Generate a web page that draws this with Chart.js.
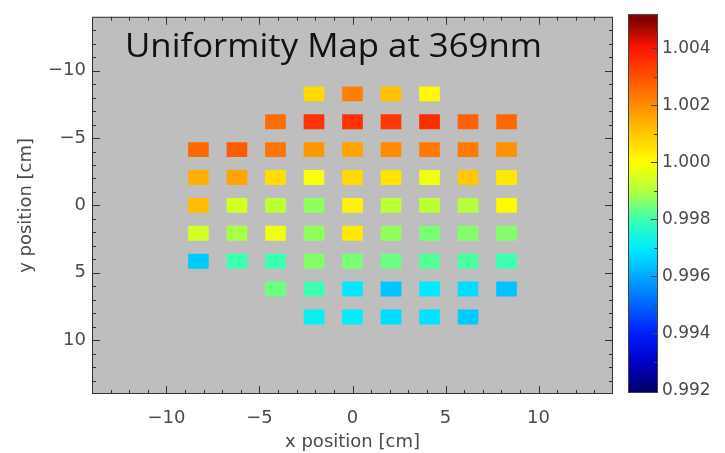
<!doctype html>
<html>
<head>
  <meta charset="utf-8">
  <title>Uniformity Map at 369nm</title>
  <style>
    body { margin: 0; background: #fff; }
    .wrap { position: relative; width: 725px; height: 453px; }
    #mapChart { position: absolute; left: 0; top: 0; }
    #barChart { position: absolute; left: 600px; top: 0; }
  </style>
</head>
<body>
  <div class="wrap">
    <canvas id="mapChart" width="725" height="453"></canvas>
    <canvas id="barChart" width="125" height="453"></canvas>
  </div>

  <script src="https://cdn.jsdelivr.net/npm/chart.js"></script>
  <script>
    // cell centres [cm]
    const colX = [-8.28, -6.21, -4.14, -2.07, 0, 2.07, 4.14, 6.21, 8.28];
    const rowY = [-8.28, -6.21, -4.14, -2.07, 0, 2.07, 4.14, 6.21, 8.28];

    // relative response per cell, one array per row (null = no cell)
    const row1 = [null, null, null, 1.0007, 1.0022, 1.0011, 1.0001, null, null];
    const row2 = [null, null, 1.0025, 1.0035, 1.0035, 1.0034, 1.0036, 1.0027, 1.0026];
    const row3 = [1.0026, 1.0028, 1.0024, 1.0018, 1.0016, 1.0020, 1.0023, 1.0023, 1.0019];
    const row4 = [1.0014, 1.0016, 1.0006, 0.9999, 1.0007, 1.0005, 0.9998, 1.0010, 1.0004];
    const row5 = [1.0012, 0.9994, 0.9991, 0.9987, 1.0002, 0.9991, 0.9991, 0.9990, 1.0001];
    const row6 = [0.9994, 0.9989, 0.9998, 0.9987, 1.0004, 0.9987, 0.9985, 0.9986, 0.9986];
    const row7 = [0.9965, 0.9980, 0.9980, 0.9986, 0.9985, 0.9984, 0.9982, 0.9981, 0.9980];
    const row8 = [null, null, 0.9984, 0.9980, 0.9970, 0.9964, 0.9970, 0.9968, 0.9964];
    const row9 = [null, null, null, 0.9972, 0.9971, 0.9968, 0.9969, 0.9965, null];
    const rows = [row1, row2, row3, row4, row5, row6, row7, row8, row9];

    const axisTicks = [-10, -5, 0, 5, 10];
    const barTicks = [0.992, 0.994, 0.996, 0.998, 1.000, 1.002, 1.004];
    const barMin = 0.9919, barMax = 1.0052;

    // rainbow colour table
    const stops = [
      [0.992, [0, 0, 110]], [0.993, [0, 0, 200]], [0.994, [0, 30, 255]],
      [0.995, [0, 100, 255]], [0.996, [0, 170, 255]], [0.997, [0, 235, 255]],
      [0.998, [60, 255, 175]], [0.999, [180, 255, 60]], [1.000, [255, 255, 0]],
      [1.001, [255, 200, 0]], [1.002, [255, 140, 0]], [1.003, [255, 80, 0]],
      [1.004, [255, 20, 0]], [1.005, [130, 0, 0]]
    ];
    function colorOf(v) {
      if (v <= stops[0][0]) return 'rgb(' + stops[0][1].join(',') + ')';
      for (let i = 1; i < stops.length; i++) {
        if (v <= stops[i][0]) {
          const a = stops[i - 1], b = stops[i];
          const t = (v - a[0]) / (b[0] - a[0]);
          const c = a[1].map((k, j) => Math.round(k + (b[1][j] - k) * t));
          return 'rgb(' + c.join(',') + ')';
        }
      }
      return 'rgb(' + stops[stops.length - 1][1].join(',') + ')';
    }

    const cells = [];
    const cellColors = [];
    rows.forEach((r, i) => {
      r.forEach((v, j) => {
        if (v === null) return;
        cells.push({ x: colX[j], y: [rowY[i] - 0.53, rowY[i] + 0.53] });
        cellColors.push(colorOf(v));
      });
    });

    const textFont = { family: 'DejaVu Sans', size: 18 };
    const textColor = '#4a4a4a';
    const minus = (v) => String(v).replace('-', '\u2212');

    // grey background, frame, inward ticks, title
    const frame = {
      id: 'frame',
      beforeDraw(chart) {
        const a = chart.chartArea, c = chart.ctx;
        c.save();
        c.fillStyle = '#bebebe';
        c.fillRect(a.left, a.top, a.right - a.left, a.bottom - a.top);
        c.restore();
      },
      afterDatasetsDraw(chart) {
        const a = chart.chartArea, c = chart.ctx;
        const xs = chart.scales.x, ys = chart.scales.y;
        c.save();
        c.strokeStyle = '#333';
        c.lineWidth = 1;
        c.strokeRect(a.left + 0.5, a.top + 0.5, a.right - a.left - 1, a.bottom - a.top - 1);
        c.beginPath();
        for (let v = -13; v <= 13; v++) {
          const len = v % 5 === 0 ? 8 : 4;
          const px = Math.round(xs.getPixelForValue(v)) + 0.5;
          c.moveTo(px, a.bottom); c.lineTo(px, a.bottom - len);
          c.moveTo(px, a.top); c.lineTo(px, a.top + len);
          const py = Math.round(ys.getPixelForValue(v)) + 0.5;
          c.moveTo(a.left, py); c.lineTo(a.left + len, py);
          c.moveTo(a.right, py); c.lineTo(a.right - len, py);
        }
        c.stroke();
        // title, stretched to the width it has in the original
        const title = 'Uniformity Map at 369nm';
        c.fillStyle = '#111';
        c.font = '32px "Open Sans"';
        c.textBaseline = 'alphabetic';
        const w = c.measureText(title).width;
        c.translate(125, 57);
        c.scale(417 / w, 1);
        c.fillText(title, 0, 0);
        c.restore();
      }
    };

    new Chart(document.getElementById('mapChart'), {
      type: 'bar',
      data: {
        datasets: [{
          data: cells,
          backgroundColor: cellColors,
          borderWidth: 0,
          barThickness: 20
        }]
      },
      options: {
        responsive: false,
        animation: false,
        layout: { padding: { left: 0, top: 13, right: 112, bottom: 0 } },
        plugins: { legend: { display: false }, tooltip: { enabled: false } },
        scales: {
          x: {
            type: 'linear', min: -14, max: 14, offset: false,
            afterBuildTicks: (s) => { s.ticks = axisTicks.map((v) => ({ value: v })); },
            afterFit: (s) => { s.height = 59; },
            grid: { display: false, drawTicks: false },
            border: { display: false },
            ticks: { font: textFont, color: textColor, padding: 14, maxRotation: 0, callback: minus },
            title: { display: true, text: 'x position [cm]', font: textFont, color: textColor, padding: 0 }
          },
          y: {
            type: 'linear', min: -14, max: 14, reverse: true,
            afterBuildTicks: (s) => { s.ticks = axisTicks.map((v) => ({ value: v })); },
            afterFit: (s) => { s.width = 92; },
            grid: { display: false, drawTicks: false },
            border: { display: false },
            ticks: { font: textFont, color: textColor, padding: 6, callback: minus },
            title: { display: true, text: 'y position [cm]', font: textFont, color: textColor,
                     padding: { top: 16, bottom: 0 } }
          }
        }
      },
      plugins: [frame]
    });

    // colour bar
    const barFrame = {
      id: 'barFrame',
      afterDatasetsDraw(chart) {
        const a = chart.chartArea, c = chart.ctx, ys = chart.scales.y;
        c.save();
        c.strokeStyle = '#444';
        c.lineWidth = 1;
        c.strokeRect(a.left + 0.5, a.top + 0.5, a.right - a.left - 1, a.bottom - a.top - 1);
        c.beginPath();
        for (let k = 1; k <= 12; k++) {
          const v = 0.992 + k * 0.001;
          const len = k % 2 === 0 ? 7 : 4;
          const py = Math.round(ys.getPixelForValue(v)) + 0.5;
          c.moveTo(a.right, py); c.lineTo(a.right - len, py);
        }
        c.stroke();
        c.restore();
      }
    };

    new Chart(document.getElementById('barChart'), {
      type: 'bar',
      data: {
        labels: ['scale'],
        datasets: [{
          data: [[barMin, barMax]],
          borderWidth: 0,
          barPercentage: 1,
          categoryPercentage: 1,
          backgroundColor: (ctx) => {
            const ch = ctx.chart, ys = ch.scales.y;
            if (!ch.chartArea || !ys) return '#888';
            const g = ch.ctx.createLinearGradient(0, ys.getPixelForValue(barMin), 0, ys.getPixelForValue(barMax));
            stops.forEach((s) => g.addColorStop(Math.min(1, Math.max(0, (s[0] - barMin) / (barMax - barMin))),
              'rgb(' + s[1].join(',') + ')'));
            return g;
          }
        }]
      },
      options: {
        responsive: false,
        animation: false,
        layout: { padding: { left: 28, top: 13, right: 0, bottom: 60 } },
        plugins: { legend: { display: false }, tooltip: { enabled: false } },
        scales: {
          x: { display: false },
          y: {
            position: 'right', min: barMin, max: barMax,
            afterBuildTicks: (s) => { s.ticks = barTicks.map((v) => ({ value: v })); },
            afterFit: (s) => { s.width = 67; },
            grid: { display: false, drawTicks: false },
            border: { display: false },
            ticks: { font: { family: 'DejaVu Sans', size: 17 }, color: textColor, padding: 4,
                      callback: (v) => Number(v).toFixed(3) }
          }
        }
      },
      plugins: [barFrame]
    });
  </script>
</body>
</html>
